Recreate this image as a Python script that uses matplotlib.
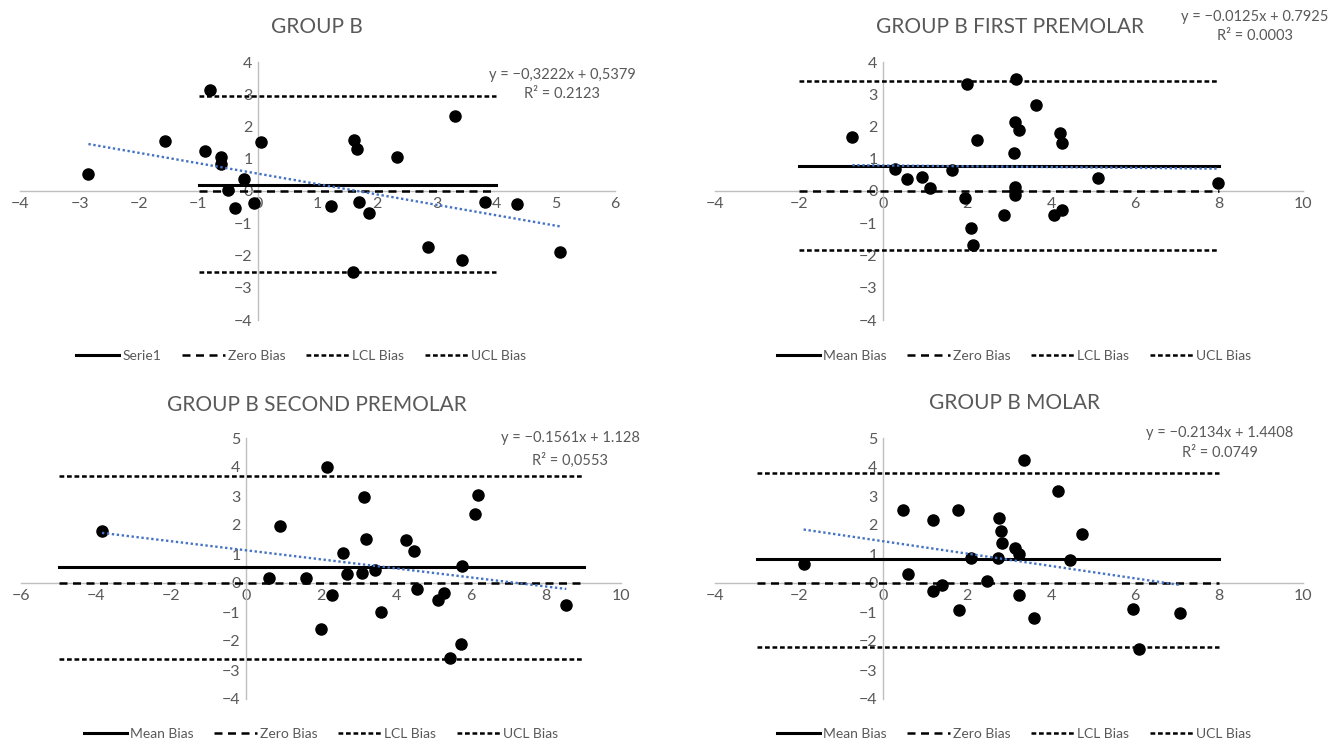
import matplotlib.pyplot as plt
import numpy as np

plt.rcParams['font.family'] = ['Lato', 'DejaVu Sans']

# GROUP B
gb_x = [-2.85, -0.81, -1.57, -0.89, -0.62, -0.62, -0.24, -0.50, -0.38, -0.06, 0.05, 1.22,
        1.62, 1.67, 1.69, 1.87, 2.34, 3.31, 2.86, 3.43, 1.59, 3.81, 4.36, 5.07]
gb_y = [0.54, 3.13, 1.54, 1.23, 1.06, 0.85, 0.36, 0.02, -0.53, -0.38, 1.52, -0.48,
        1.59, 1.31, -0.33, -0.68, 1.06, 2.32, -1.73, -2.13, -2.51, -0.34, -0.39, -1.90]

# GROUP B FIRST PREMOLAR
fp_x = [-0.73, 0.28, 0.57, 0.93, 1.11, 1.64, 1.99, 2.23, 1.96, 2.09, 2.14, 2.88, 3.17,
        3.15, 3.23, 3.13, 3.14, 3.14, 3.14, 3.64, 4.22, 4.27, 4.25, 4.08, 5.11, 7.98]
fp_y = [1.67, 0.67, 0.36, 0.44, 0.10, 0.64, 3.31, 1.59, -0.22, -1.14, -1.66, -0.75, 3.46,
        2.15, 1.90, 1.17, 0.12, 0.00, -0.13, 2.66, 1.79, 1.49, -0.59, -0.75, 0.40, 0.25]

# GROUP B SECOND PREMOLAR
sp_x = [-3.84, 0.60, 0.90, 1.61, 2.00, 2.17, 2.29, 2.58, 2.68, 3.08, 3.15, 3.20, 3.45,
        3.59, 4.26, 4.49, 4.55, 5.12, 5.29, 5.43, 5.73, 5.75, 6.11, 6.19, 8.54]
sp_y = [1.78, 0.17, 1.96, 0.17, -1.59, 4.00, -0.40, 1.04, 0.30, 0.35, 2.96, 1.52, 0.46,
        -0.99, 1.49, 1.10, -0.22, -0.58, -0.35, -2.57, -2.10, 0.57, 2.39, 3.04, -0.77]

# GROUP B MOLAR
m_x = [-1.89, 0.47, 0.60, 1.19, 1.19, 1.41, 1.79, 1.82, 2.10, 2.47, 2.75, 2.81, 2.83,
       2.73, 3.14, 3.24, 3.24, 3.36, 3.59, 4.17, 4.45, 4.73, 5.96, 6.10, 7.07]
m_y = [0.66, 2.51, 0.31, 2.16, -0.27, -0.07, 2.53, -0.94, 0.86, 0.08, 2.25, 1.79, 1.37,
       0.86, 1.20, 1.01, -0.41, 4.25, -1.19, 3.17, 0.81, 1.70, -0.90, -2.27, -1.05]

titles = ['GROUP B', 'GROUP B FIRST PREMOLAR', 'GROUP B SECOND PREMOLAR', 'GROUP B MOLAR']
mean_labels = ['Serie1', 'Mean Bias', 'Mean Bias', 'Mean Bias']
mean_bias = [0.19, 0.78, 0.54, 0.83]
lcl_bias = [-2.52, -1.83, -2.61, -2.19]
ucl_bias = [2.94, 3.41, 3.68, 3.78]
bias_span = [(-1, 4), (-2, 8), (-5, 9), (-3, 8)]
slopes = [-0.3222, -0.0125, -0.1561, -0.2134]
intercepts = [0.5379, 0.7925, 1.128, 1.4408]
eq_lines = [('y = \u22120,3222x + 0,5379', 'R\u00b2 = 0.2123'),
            ('y = \u22120.0125x + 0.7925', 'R\u00b2 = 0.0003'),
            ('y = \u22120.1561x + 1.128', 'R\u00b2 = 0,0553'),
            ('y = \u22120.2134x + 1.4408', 'R\u00b2 = 0.0749')]

xlims = [(-4, 6), (-4, 10), (-6, 10), (-4, 10)]
xsteps = [1, 2, 2, 2]
ylims = [(-4, 4), (-4, 4), (-4, 5), (-4, 5)]

W, H = 1341, 742
# axes boxes in pixels: left, right, top, bottom
boxes = [(20, 615, 62, 320), (715, 1303, 62, 320), (21, 621, 438, 699), (715, 1303, 438, 699)]
title_pos = [(317, 27), (1010, 27), (317, 405), (1015, 403)]
eq_pos = [(562, 75, 94), (1255, 17, 36), (570, 438, 460), (1220, 433, 453)]
legend_pos = [(301, 356), (1014, 356), (321, 734), (1014, 734)]

TXT = '#595959'
AX = '#bfbfbf'

fig = plt.figure(figsize=(W / 100, H / 100), dpi=100)

data = [(gb_x, gb_y), (fp_x, fp_y), (sp_x, sp_y), (m_x, m_y)]

for i in range(4):
    l, r, t, b = boxes[i]
    ax = fig.add_axes([l / W, 1 - b / H, (r - l) / W, (b - t) / H])
    x, y = data[i]

    x0, x1 = bias_span[i]
    h1, = ax.plot([x0, x1], [mean_bias[i]] * 2, color='black', lw=2.2, zorder=3,
                  label=mean_labels[i])
    h2, = ax.plot([x0, x1], [0, 0], color='black', lw=1.8, dashes=(3.2, 2.2), zorder=3,
                  label='Zero Bias')
    h3, = ax.plot([x0, x1], [lcl_bias[i]] * 2, color='black', lw=1.8, dashes=(1.9, 1.1),
                  zorder=3, label='LCL Bias')
    h4, = ax.plot([x0, x1], [ucl_bias[i]] * 2, color='black', lw=1.8, dashes=(1.9, 1.1),
                  zorder=3, label='UCL Bias')

    ax.plot(x, y, 'o', color='black', ms=8, zorder=4, clip_on=False)

    tx = np.array([min(x), max(x)])
    ax.plot(tx, slopes[i] * tx + intercepts[i], color='#4472C4', lw=1.7,
            linestyle=(0, (1, 1.1)), zorder=5)

    ax.set_xlim(*xlims[i])
    ax.set_ylim(*ylims[i])
    ax.set_xticks(np.arange(xlims[i][0], xlims[i][1] + 0.1, xsteps[i]))
    ax.set_yticks(np.arange(ylims[i][0], ylims[i][1] + 0.1, 1))
    ax.patch.set_alpha(0)
    for s in ['top', 'right']:
        ax.spines[s].set_visible(False)
    ax.spines['left'].set_position(('data', 0))
    ax.spines['bottom'].set_position(('data', 0))
    ax.spines['left'].set_color(AX)
    ax.spines['bottom'].set_color(AX)
    ax.spines['left'].set_linewidth(1.0)
    ax.spines['bottom'].set_linewidth(1.0)
    ax.tick_params(length=0, labelsize=11.5, labelcolor=TXT, pad=4)

    tx_, ty_ = title_pos[i]
    fig.text(tx_ / W, 1 - ty_ / H, titles[i], ha='center', va='center',
             fontsize=15, color=TXT)

    ex, ey1, ey2 = eq_pos[i]
    fig.text(ex / W, 1 - ey1 / H, eq_lines[i][0], ha='center', va='center',
             fontsize=10.5, color=TXT)
    fig.text(ex / W, 1 - ey2 / H, eq_lines[i][1], ha='center', va='center',
             fontsize=10.5, color=TXT)

    lx, ly = legend_pos[i]
    leg = fig.legend(handles=[h1, h2, h3, h4], loc='center', ncol=4, frameon=False,
                     bbox_to_anchor=(lx / W, 1 - ly / H), fontsize=10,
                     handlelength=3.1, handletextpad=0.2, columnspacing=1.5)
    for t in leg.get_texts():
        t.set_color(TXT)

fig.savefig('out.png', dpi=100)
